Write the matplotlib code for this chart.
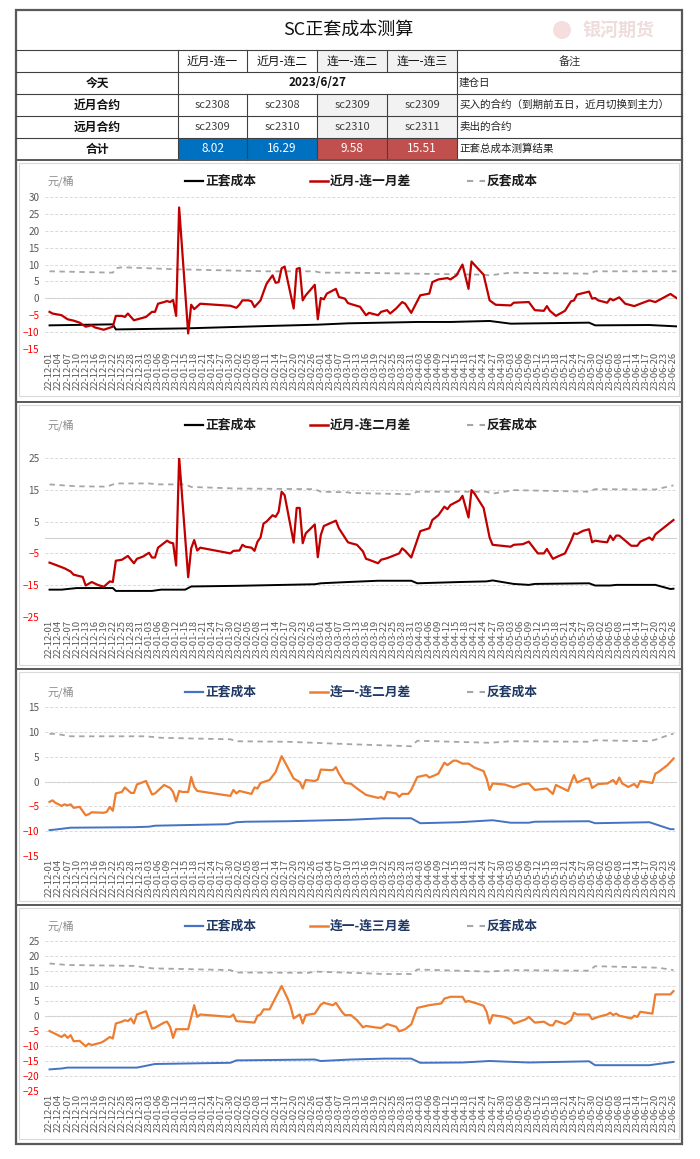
import matplotlib
matplotlib.use('Agg')
import matplotlib.pyplot as plt
import matplotlib.dates as mdates
from matplotlib.patches import Rectangle, Circle
import pandas as pd

plt.rcParams['font.family'] = ['Noto Sans CJK SC', 'DejaVu Sans']

# ---------------- table data ----------------
title = 'SC正套成本测算'
spread_cols = ['近月-连一', '近月-连二', '连一-连二', '连一-连三']
row_labels = ['今天', '近月合约', '远月合约', '合计']
today = '2023/6/27'
near_contracts = ['sc2308', 'sc2308', 'sc2309', 'sc2309']
far_contracts = ['sc2309', 'sc2310', 'sc2310', 'sc2311']
totals = [8.02, 16.29, 9.58, 15.51]
notes = ['备注', '建仓日', '买入的合约（到期前五日，近月切换到主力）', '卖出的合约', '正套总成本测算结果']
legend_pos = '正套成本'
legend_rev = '反套成本'
spread_names = ['近月-连一月差', '近月-连二月差', '连一-连二月差', '连一-连三月差']
unit = '元/桶'

# ---------------- chart 1: 近月-连一 ----------------
c1_spread_d = ['22-12-01','22-12-02','22-12-05','22-12-07','22-12-09','22-12-11','22-12-13','22-12-15','22-12-16','22-12-19',
               '22-12-22','22-12-23','22-12-25','22-12-26','22-12-27','22-12-29','22-12-31','23-01-02','23-01-04','23-01-05',
               '23-01-06','23-01-08','23-01-09','23-01-10','23-01-11','23-01-12','23-01-13','23-01-16','23-01-17','23-01-18',
               '23-01-20','23-01-30','23-02-01','23-02-02','23-02-03','23-02-05','23-02-06','23-02-07','23-02-09','23-02-10',
               '23-02-11','23-02-12','23-02-13','23-02-14','23-02-15','23-02-16','23-02-17','23-02-20','23-02-21','23-02-22',
               '23-02-23','23-02-24','23-02-27','23-02-28','23-03-01','23-03-02','23-03-03','23-03-06','23-03-07','23-03-09',
               '23-03-10','23-03-11','23-03-14','23-03-16','23-03-17','23-03-20','23-03-21','23-03-23','23-03-24','23-03-26',
               '23-03-28','23-03-29','23-03-31','23-04-03','23-04-06','23-04-07','23-04-09','23-04-12','23-04-13','23-04-15',
               '23-04-17','23-04-19','23-04-20','23-04-21','23-04-24','23-04-26','23-04-28','23-05-03','23-05-04','23-05-09',
               '23-05-11','23-05-14','23-05-15','23-05-16','23-05-18','23-05-21','23-05-23','23-05-24','23-05-25','23-05-29',
               '23-05-30','23-05-31','23-06-01','23-06-04','23-06-05','23-06-06','23-06-08','23-06-10','23-06-13','23-06-15',
               '23-06-18','23-06-20','23-06-25','23-06-27']
c1_spread_v = [-4.0,-4.5,-5.0,-6.2,-6.6,-7.2,-8.4,-8.0,-8.6,-9.3,
               -8.4,-5.2,-5.2,-5.5,-4.5,-6.5,-6.0,-5.5,-4.0,-4.0,
               -1.6,-1.1,-0.8,-1.1,-0.5,-5.2,26.9,-10.4,-1.9,-3.2,
               -1.6,-2.2,-2.8,-1.9,-0.6,-0.6,-0.9,-2.6,-0.6,1.9,
               4.3,5.6,6.8,4.6,4.8,8.9,9.4,-3.0,8.7,9.0,
               -0.6,0.9,4.0,-6.2,0.1,-0.3,1.4,2.8,0.4,-0.1,
               -1.4,-1.7,-2.5,-5.0,-4.3,-5.0,-4.0,-3.5,-4.5,-3.0,
               -1.1,-1.6,-4.3,0.9,1.4,4.8,5.6,6.0,5.6,6.8,
               10.0,2.8,10.9,9.9,7.0,-0.6,-1.9,-2.1,-1.3,-1.1,
               -3.5,-3.7,-2.3,-3.7,-5.2,-3.7,-0.9,-0.6,1.1,2.0,
               -0.1,0.1,-0.6,-1.3,-0.1,-0.6,0.3,-1.6,-2.3,-1.6,
               -0.6,-1.1,1.3,0.1]
c1_pos_d = ['22-12-01','22-12-22','22-12-23','23-01-15','23-02-11','23-02-28','23-03-10','23-04-02','23-04-13','23-04-26',
            '23-05-03','23-05-29','23-05-31','23-06-18','23-06-27']
c1_pos_v = [-8.0,-7.7,-9.2,-8.9,-8.2,-7.8,-7.4,-7.0,-7.0,-6.7,-7.5,-7.2,-8.0,-7.9,-8.3]
c1_rev_d = ['22-12-01','22-12-22','22-12-23','22-12-25','23-01-12','23-02-11','23-02-27','23-03-01','23-03-10','23-04-24',
            '23-04-26','23-05-03','23-05-29','23-05-31','23-06-27']
c1_rev_v = [8.0,7.6,8.9,9.2,8.6,8.0,8.0,7.6,7.6,7.0,6.8,7.6,7.3,8.0,8.0]

# ---------------- chart 2: 近月-连二 ----------------
c2_spread_d = ['22-12-01','22-12-03','22-12-06','22-12-08','22-12-09','22-12-12','22-12-13','22-12-15','22-12-17','22-12-19',
               '22-12-21','22-12-22','22-12-23','22-12-25','22-12-27','22-12-29','22-12-30','23-01-01','23-01-03','23-01-04',
               '23-01-05','23-01-06','23-01-09','23-01-10','23-01-11','23-01-12','23-01-13','23-01-16','23-01-17','23-01-18',
               '23-01-19','23-01-20','23-01-30','23-01-31','23-02-02','23-02-03','23-02-04','23-02-06','23-02-07','23-02-08',
               '23-02-09','23-02-10','23-02-11','23-02-13','23-02-14','23-02-15','23-02-16','23-02-17','23-02-20','23-02-21',
               '23-02-22','23-02-23','23-02-24','23-02-27','23-02-28','23-03-01','23-03-02','23-03-06','23-03-07','23-03-10',
               '23-03-11','23-03-13','23-03-15','23-03-16','23-03-17','23-03-20','23-03-21','23-03-23','23-03-27','23-03-28',
               '23-03-29','23-03-31','23-04-03','23-04-06','23-04-07','23-04-09','23-04-11','23-04-12','23-04-13','23-04-16',
               '23-04-17','23-04-19','23-04-20','23-04-21','23-04-24','23-04-26','23-04-27','23-05-03','23-05-04','23-05-07',
               '23-05-09','23-05-12','23-05-14','23-05-15','23-05-17','23-05-19','23-05-21','23-05-23','23-05-24','23-05-25',
               '23-05-27','23-05-29','23-05-30','23-05-31','23-06-02','23-06-04','23-06-05','23-06-06','23-06-07','23-06-08',
               '23-06-12','23-06-14','23-06-15','23-06-18','23-06-19','23-06-20','23-06-26']
c2_spread_v = [-7.9,-8.6,-9.7,-10.7,-11.7,-12.4,-15.1,-14.0,-14.9,-15.5,
               -13.8,-14.0,-7.3,-7.0,-5.8,-8.1,-6.7,-6.0,-4.8,-6.3,
               -6.3,-3.2,-1.0,-1.6,-1.8,-8.8,25.3,-12.5,-3.4,-0.8,
               -4.1,-3.2,-5.0,-4.2,-4.1,-2.3,-2.9,-3.2,-4.2,-1.3,
               0.0,4.4,5.0,7.0,6.5,8.1,14.4,13.3,-1.6,9.3,
               9.3,-1.8,1.3,4.1,-6.2,0.8,3.6,5.3,2.9,-1.5,
               -1.8,-2.3,-4.4,-6.7,-7.0,-8.1,-7.0,-6.5,-5.0,-3.4,
               -4.2,-6.3,2.0,2.9,5.5,7.0,9.7,8.9,10.2,11.7,
               13.1,6.3,14.9,13.8,9.3,0.0,-2.3,-2.9,-2.3,-2.1,
               -1.3,-5.0,-5.0,-3.6,-6.7,-5.8,-5.0,-1.1,1.3,1.1,
               2.1,2.6,-1.5,-1.0,-1.3,-1.5,0.6,-0.8,0.6,0.6,
               -2.6,-2.6,-1.3,0.0,-0.8,1.0,5.5]
c2_pos_d = ['22-12-01','22-12-05','22-12-10','22-12-22','22-12-23','23-01-04','23-01-07','23-01-15','23-01-17','23-02-01',
            '23-02-27','23-03-01','23-03-10','23-03-20','23-03-31','23-04-02','23-04-16','23-04-25','23-04-27','23-05-04',
            '23-05-09','23-05-11','23-05-29','23-05-31','23-06-05','23-06-07','23-06-20','23-06-25','23-06-26']
c2_pos_v = [-16.4,-16.4,-15.9,-15.9,-16.8,-16.8,-16.4,-16.4,-15.4,-15.2,
            -14.7,-14.4,-14.0,-13.6,-13.6,-14.4,-14.0,-13.8,-13.5,-14.6,
            -14.9,-14.6,-14.4,-15.1,-15.1,-14.9,-14.9,-16.2,-16.1]
c2_rev_d = ['22-12-01','22-12-10','22-12-20','22-12-23','23-01-03','23-01-06','23-01-15','23-01-17','23-02-01','23-02-27',
            '23-03-01','23-03-10','23-03-11','23-03-31','23-04-02','23-04-25','23-04-27','23-05-04','23-05-29','23-05-31',
            '23-06-20','23-06-26']
c2_rev_v = [16.7,16.1,16.0,17.0,17.0,16.7,16.7,15.9,15.4,15.2,
            14.4,14.2,14.0,13.6,14.4,14.4,13.8,14.9,14.4,15.2,
            15.1,16.4]

# ---------------- chart 3: 连一-连二 ----------------
c3_spread_d = ['22-12-01','22-12-02','22-12-03','22-12-05','22-12-06','22-12-07','22-12-08','22-12-09','22-12-11','22-12-13',
               '22-12-14','22-12-15','22-12-19','22-12-20','22-12-21','22-12-22','22-12-23','22-12-25','22-12-26','22-12-28',
               '22-12-29','22-12-30','23-01-02','23-01-04','23-01-05','23-01-08','23-01-10','23-01-11','23-01-12','23-01-13',
               '23-01-14','23-01-16','23-01-17','23-01-18','23-01-19','23-01-30','23-01-31','23-02-01','23-02-02','23-02-06',
               '23-02-07','23-02-08','23-02-09','23-02-12','23-02-14','23-02-16','23-02-17','23-02-20','23-02-22','23-02-23',
               '23-02-24','23-02-27','23-02-28','23-03-01','23-03-04','23-03-05','23-03-06','23-03-07','23-03-09','23-03-11',
               '23-03-13','23-03-16','23-03-20','23-03-21','23-03-22','23-03-23','23-03-26','23-03-27','23-03-28','23-03-30',
               '23-03-31','23-04-02','23-04-05','23-04-06','23-04-08','23-04-09','23-04-11','23-04-12','23-04-14','23-04-15',
               '23-04-17','23-04-19','23-04-21','23-04-24','23-04-25','23-04-26','23-04-27','23-05-01','23-05-04','23-05-07',
               '23-05-09','23-05-11','23-05-15','23-05-17','23-05-18','23-05-22','23-05-24','23-05-25','23-05-28','23-05-29',
               '23-05-30','23-06-01','23-06-04','23-06-06','23-06-07','23-06-08','23-06-09','23-06-11','23-06-13','23-06-14',
               '23-06-15','23-06-19','23-06-20','23-06-21','23-06-24','23-06-26']
c3_spread_v = [-4.1,-3.8,-4.3,-4.9,-4.6,-4.8,-4.6,-5.3,-5.1,-6.8,
               -6.6,-6.2,-6.3,-6.1,-5.1,-5.9,-2.4,-2.1,-1.2,-2.3,
               -2.3,-0.6,0.1,-2.6,-2.4,-0.7,-1.3,-2.1,-4.0,-1.9,
               -2.1,-2.1,0.9,-1.1,-1.9,-2.9,-1.7,-2.4,-1.9,-2.5,
               -1.2,-1.4,-0.3,0.3,1.9,5.1,4.0,0.6,-0.1,-1.4,
               0.3,0.1,0.4,2.4,2.3,2.3,2.9,1.6,-0.3,-0.45,
               -1.4,-2.7,-3.3,-3.1,-3.6,-2.1,-2.4,-3.1,-2.5,-2.5,
               -1.7,0.9,1.3,0.8,1.3,1.6,3.8,3.3,4.2,4.2,
               3.6,3.6,2.8,2.1,0.6,-1.7,-0.4,-0.6,-1.2,-0.5,
               -0.4,-1.7,-1.4,-2.5,-0.7,-1.9,1.3,-0.2,0.6,0.6,
               -1.3,-0.5,-0.4,0.3,-0.5,0.8,-0.4,-1.1,-0.5,-1.2,
               0.1,-0.3,1.6,1.9,3.3,4.6]
c3_pos_d = ['22-12-01','22-12-04','22-12-08','22-12-29','23-01-03','23-01-05','23-01-29','23-02-01','23-02-04','23-02-18',
            '23-03-11','23-03-22','23-03-31','23-04-03','23-04-16','23-04-27','23-05-03','23-05-09','23-05-11','23-05-29',
            '23-05-31','23-06-18','23-06-25','23-06-26']
c3_pos_v = [-9.8,-9.6,-9.3,-9.2,-9.1,-8.9,-8.6,-8.2,-8.1,-8.0,
            -7.7,-7.4,-7.4,-8.4,-8.2,-7.8,-8.3,-8.3,-8.1,-8.0,
            -8.4,-8.2,-9.6,-9.6]
c3_rev_d = ['22-12-01','22-12-03','22-12-08','23-01-02','23-01-07','23-01-30','23-02-01','23-02-18','23-03-11','23-03-31',
            '23-04-02','23-04-26','23-05-03','23-05-29','23-05-31','23-06-18','23-06-21','23-06-25','23-06-26']
c3_rev_v = [9.6,9.6,9.1,9.1,8.8,8.5,8.1,8.0,7.5,7.1,
            8.2,7.8,8.1,8.0,8.3,8.1,8.6,9.5,9.6]

# ---------------- chart 4: 连一-连三 ----------------
c4_spread_d = ['22-12-01','22-12-05','22-12-06','22-12-07','22-12-08','22-12-09','22-12-11','22-12-13','22-12-14','22-12-15',
               '22-12-18','22-12-19','22-12-21','22-12-22','22-12-23','22-12-25','22-12-26','22-12-27','22-12-28','22-12-29',
               '22-12-30','23-01-02','23-01-04','23-01-05','23-01-08','23-01-09','23-01-10','23-01-11','23-01-12','23-01-14',
               '23-01-16','23-01-18','23-01-19','23-01-20','23-01-30','23-01-31','23-02-01','23-02-07','23-02-08','23-02-09',
               '23-02-10','23-02-12','23-02-13','23-02-16','23-02-18','23-02-19','23-02-20','23-02-22','23-02-23','23-02-24',
               '23-02-27','23-03-01','23-03-02','23-03-05','23-03-06','23-03-08','23-03-09','23-03-11','23-03-13','23-03-15',
               '23-03-16','23-03-19','23-03-21','23-03-23','23-03-26','23-03-27','23-03-29','23-03-31','23-04-02','23-04-05',
               '23-04-06','23-04-10','23-04-11','23-04-13','23-04-17','23-04-18','23-04-19','23-04-22','23-04-24','23-04-25',
               '23-04-26','23-04-27','23-05-01','23-05-03','23-05-04','23-05-05','23-05-08','23-05-09','23-05-11','23-05-14',
               '23-05-16','23-05-17','23-05-18','23-05-21','23-05-23','23-05-24','23-05-25','23-05-29','23-05-30','23-06-01',
               '23-06-04','23-06-05','23-06-06','23-06-07','23-06-08','23-06-12','23-06-13','23-06-14','23-06-15','23-06-19',
               '23-06-20','23-06-25','23-06-26']
c4_spread_v = [-5.0,-7.0,-6.2,-7.3,-6.4,-8.4,-8.3,-10.1,-9.2,-9.7,
               -8.9,-8.4,-7.0,-7.5,-2.5,-1.9,-1.4,-1.7,-0.8,-2.5,
               0.5,1.6,-4.2,-3.9,-2.2,-1.9,-3.6,-7.3,-4.4,-4.4,
               -4.4,3.6,-0.3,0.5,-0.3,0.5,-1.7,-2.2,0.1,0.5,
               2.2,2.2,4.2,10.0,5.8,3.1,-0.8,0.5,-2.5,0.3,
               0.8,3.8,4.4,3.6,4.4,1.4,0.3,0.3,-1.4,-3.8,
               -3.3,-3.8,-4.0,-2.7,-3.6,-5.1,-4.4,-2.8,2.7,3.4,
               3.6,4.2,5.8,6.4,6.4,4.7,5.0,4.1,3.4,1.4,
               -2.5,0.3,-0.3,-1.1,-2.5,-2.2,-1.1,-0.3,-2.2,-1.9,
               -3.1,-3.1,-1.6,-2.7,-1.4,1.1,0.5,0.5,-1.1,-0.3,
               0.5,1.1,0.3,0.8,0.1,-0.8,0.1,-0.3,1.4,0.8,
               7.2,7.2,8.3]
c4_pos_d = ['22-12-01','22-12-05','22-12-07','22-12-30','23-01-02','23-01-05','23-01-30','23-02-01','23-02-27','23-03-01',
            '23-03-05','23-03-11','23-03-22','23-03-31','23-04-03','23-04-17','23-04-26','23-05-09','23-05-29','23-05-31',
            '23-06-18','23-06-26']
c4_pos_v = [-17.8,-17.5,-17.2,-17.2,-16.6,-16.0,-15.6,-14.8,-14.5,-15.0,
            -14.8,-14.5,-14.2,-14.2,-15.6,-15.5,-15.0,-15.5,-15.1,-16.4,
            -16.4,-15.3]
c4_rev_d = ['22-12-01','22-12-07','22-12-29','23-01-04','23-01-30','23-02-01','23-02-25','23-02-27','23-03-11','23-03-22',
            '23-03-31','23-04-02','23-04-26','23-05-03','23-05-29','23-05-31','23-06-21','23-06-26']
c4_rev_v = [17.5,17.0,16.7,15.9,15.3,14.5,14.4,14.8,14.4,14.0,
            14.0,15.5,14.8,15.3,15.1,16.6,16.1,15.3]

# ---------------- figure ----------------
W, H = 700, 1159
fig = plt.figure(figsize=(7, 11.59), dpi=100)
fig.patch.set_facecolor('white')

bg = fig.add_axes([0, 0, 1, 1], zorder=0)
bg.set_xlim(0, W)
bg.set_ylim(H, 0)
bg.axis('off')

DARK = '#404040'
L, R = 16, 682

# table fills
bg.add_patch(Rectangle((317, 50), 140, 22, facecolor='#F2F2F2', edgecolor='none'))
bg.add_patch(Rectangle((317, 94), 140, 44, facecolor='#F2F2F2', edgecolor='none'))
bg.add_patch(Rectangle((178, 138), 139, 22, facecolor='#0070C0', edgecolor='none'))
bg.add_patch(Rectangle((317, 138), 140, 22, facecolor='#C0504D', edgecolor='none'))

# table lines
for y in [50, 72, 94, 116, 138]:
    bg.plot([L, R], [y, y], color=DARK, lw=0.8)
for x in [178, 457]:
    bg.plot([x, x], [50, 160], color=DARK, lw=0.8)
for x in [247, 317, 387]:
    bg.plot([x, x], [50, 72], color=DARK, lw=0.8)
    bg.plot([x, x], [94, 160], color=DARK, lw=0.8)

# separators and outer frame
for y in [160, 402, 669, 905]:
    bg.plot([L, R], [y, y], color='#595959', lw=1.4)
bg.add_patch(Rectangle((L, 10), R - L, 1134, fill=False, edgecolor='#595959', lw=1.6))
for (x0, y0, x1, y1) in [(19, 163, 679, 396), (19, 405, 679, 665), (19, 672, 679, 901), (19, 908, 679, 1139)]:
    bg.add_patch(Rectangle((x0, y0), x1 - x0, y1 - y0, fill=False, edgecolor='#D9D9D9', lw=0.8))

# watermark
bg.add_patch(Circle((562, 30), 9, facecolor='#F6DEDE', edgecolor='none'))
bg.text(618, 30, '银河期货', color='#EFDCDC', fontsize=13, fontweight='bold', ha='center', va='center')

# table texts
bg.text(348, 30, title, fontsize=13, ha='center', va='center', color='#111111')
col_cx = [212.5, 282, 352, 422]
row_cy = [61, 83, 105, 127, 149]
for cx, s in zip(col_cx, spread_cols):
    bg.text(cx, row_cy[0], s, fontsize=8.5, ha='center', va='center', color='#111111')
bg.text(570, row_cy[0], notes[0], fontsize=8, ha='center', va='center', color='#333333')
for cy, s in zip(row_cy[1:], row_labels):
    bg.text(97, cy, s, fontsize=8.5, fontweight='bold', ha='center', va='center', color='#111111')
bg.text(317.5, row_cy[1], today, fontsize=8.5, fontweight='bold', ha='center', va='center', color='#111111')
for cx, s in zip(col_cx, near_contracts):
    bg.text(cx, row_cy[2], s, fontsize=8, ha='center', va='center', color='#404040')
for cx, s in zip(col_cx, far_contracts):
    bg.text(cx, row_cy[3], s, fontsize=8, ha='center', va='center', color='#404040')
for cx, v in zip(col_cx, totals):
    bg.text(cx, row_cy[4], f'{v:.2f}', fontsize=8.5, ha='center', va='center', color='white')
for cy, s in zip(row_cy[1:], notes[1:]):
    bg.text(459, cy, s, fontsize=7.6, ha='left', va='center', color='#222222')

# ---------------- charts ----------------
def P(lst):
    return pd.to_datetime(lst, format='%y-%m-%d')

charts = [
    dict(sd=c1_spread_d, sv=c1_spread_v, pd_=c1_pos_d, pv=c1_pos_v, rd=c1_rev_d, rv=c1_rev_v,
         top=197, bot=349, ylim=(-15, 30), yt=list(range(-15, 31, 5)), leg_y=181,
         sc='#C00000', pc='#000000', tc='#1A1A1A', name=spread_names[0]),
    dict(sd=c2_spread_d, sv=c2_spread_v, pd_=c2_pos_d, pv=c2_pos_v, rd=c2_rev_d, rv=c2_rev_v,
         top=458, bot=617, ylim=(-25, 25), yt=[-25, -15, -5, 5, 15, 25], leg_y=425,
         sc='#C00000', pc='#000000', tc='#1A1A1A', name=spread_names[1]),
    dict(sd=c3_spread_d, sv=c3_spread_v, pd_=c3_pos_d, pv=c3_pos_v, rd=c3_rev_d, rv=c3_rev_v,
         top=707, bot=856, ylim=(-15, 15), yt=list(range(-15, 16, 5)), leg_y=692,
         sc='#ED7D31', pc='#4472C4', tc='#1F3864', name=spread_names[2]),
    dict(sd=c4_spread_d, sv=c4_spread_v, pd_=c4_pos_d, pv=c4_pos_v, rd=c4_rev_d, rv=c4_rev_v,
         top=941, bot=1091, ylim=(-25, 25), yt=list(range(-25, 26, 5)), leg_y=926,
         sc='#ED7D31', pc='#4472C4', tc='#1F3864', name=spread_names[3]),
]

x_start = pd.Timestamp('2022-12-01')
x_end = pd.Timestamp('2023-06-26')
xticks = pd.date_range(x_start, x_end, freq='3D')
AX_L, AX_R = 45, 677
xlim = (x_start - pd.Timedelta(hours=36), x_end + pd.Timedelta(hours=28))

for c in charts:
    top, bot = c['top'], c['bot']
    ax = fig.add_axes([AX_L / W, 1 - bot / H, (AX_R - AX_L) / W, (bot - top) / H], zorder=2)
    ax.set_facecolor('none')
    ax.set_ylim(*c['ylim'])
    ax.set_yticks(c['yt'])
    ax.set_xlim(*xlim)
    ax.grid(axis='y', color='#D9D9D9', lw=0.7, ls=(0, (3, 2)))
    ax.axhline(0, color='#D0D0D0', lw=0.8, zorder=1)
    ax.plot(P(c['rd']), c['rv'], color='#A6A6A6', lw=1.3, dashes=(3, 2.5), zorder=2)
    ax.plot(P(c['pd_']), c['pv'], color=c['pc'], lw=1.4, zorder=3)
    ax.plot(P(c['sd']), c['sv'], color=c['sc'], lw=1.6, zorder=4)
    ax.set_xticks(xticks)
    ax.xaxis.set_major_formatter(mdates.DateFormatter('%y-%m-%d'))
    ax.tick_params(axis='x', rotation=90, labelsize=6.8, colors='#595959', length=0, pad=2)
    ax.tick_params(axis='y', labelsize=7.2, colors='#595959', length=0, pad=4)
    for sp in ax.spines.values():
        sp.set_visible(False)
    for lab, v in zip(ax.get_yticklabels(), c['yt']):
        lab.set_color('#FF0000' if v < 0 else '#595959')

    # legend and unit label
    ly = c['leg_y']
    bg.text(47, ly, unit, fontsize=8, color='#8C8C8C', ha='left', va='center')
    bg.plot([185, 203], [ly, ly], color=c['pc'], lw=1.6)
    bg.text(205, ly, legend_pos, fontsize=9.2, fontweight='bold', color=c['tc'], ha='left', va='center')
    bg.plot([310, 328], [ly, ly], color=c['sc'], lw=1.8)
    bg.text(330, ly, c['name'], fontsize=9.2, fontweight='bold', color=c['tc'], ha='left', va='center')
    bg.plot([467, 485], [ly, ly], color='#A6A6A6', lw=1.5, dashes=(3, 3))
    bg.text(487, ly, legend_rev, fontsize=9.2, fontweight='bold', color=c['tc'], ha='left', va='center')

fig.savefig('out.png', dpi=100, facecolor='white')
